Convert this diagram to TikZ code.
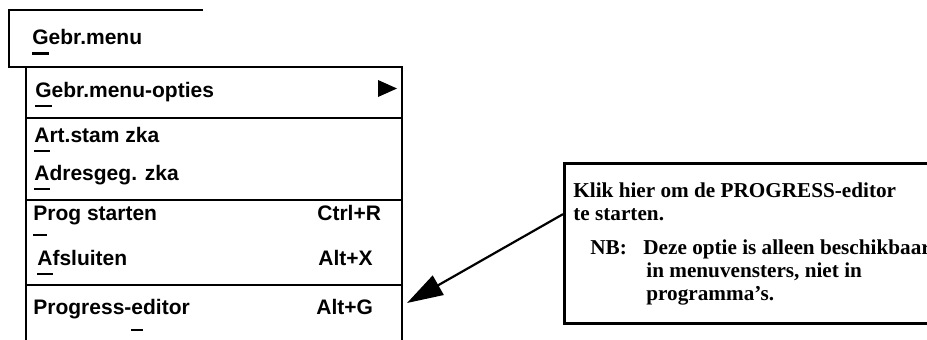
\documentclass[tikz,border=0pt]{standalone}
\usepackage{fontspec}
\usepackage{tikz}
\usetikzlibrary{arrows.meta,calc}
\newfontfamily\menufont{Liberation Sans}
\newfontfamily\notefont{Liberation Serif}
\newcommand\mnem[2][10pt]{\setbox0\hbox{#2}\rlap{\rule[-#1]{\wd0}{2.5pt}}\box0}

\begin{document}
\begin{tikzpicture}[x=1pt, y=-1pt, thick,
  frame/.style = {line width=1.2pt},
  item/.style = {anchor=base west, inner sep=0pt, font=\menufont\bfseries\fontsize{21}{25}\selectfont},
  notetext/.style = {anchor=base west, inner sep=0pt, font=\notefont\bfseries\fontsize{21.2}{25}\selectfont},
  notebox/.style = {draw, line width=3pt, anchor=north west, inner sep=0pt, minimum width=420pt, minimum height=160pt}]
\useasboundingbox (0,0) rectangle (927,340);
\clip (0,0) rectangle (927,340);
\draw[frame] (203,10) -- (9,10) -- (9,67) -- (402,67) -- (402,350);
\draw[frame] (26,67) -- (26,350);
\draw[frame] (26,118) -- (402,118);
\draw[frame] (26,200) -- (402,200);
\draw[frame] (26,285) -- (402,285);
\fill (378,80) -- (397,88.5) -- (378,97) -- cycle;
\node[item] (bar) at (32,45) {\mnem{G}ebr.menu};
\node[item] (opties) at (35,97) {\mnem{G}ebr.menu-opties};
\node[item] (artstam) at (34,142) {\mnem{A}rt.stam zka};
\node[item] (adres) at (34,180) {\mnem{A}dresgeg. zka};
\node[item] (prog) at (33,220) {\mnem[16pt]{P}rog starten};
\node[item] (afsl) at (37,265) {\mnem{A}fsluiten};
\node[item] (editor) at (33,314) {Progress-\mnem[17pt]{e}ditor};
\node[item] (ctrlr) at (317,220) {Ctrl+R};
\node[item] (altx) at (318,265) {Alt+X};
\node[item] (altg) at (316,314) {Alt+G};
\node[notebox] (note) at (563,162) {};
\node[notetext] (n1) at (573,197) {Klik hier om de PROGRESS-editor};
\node[notetext] (n2) at (573,220) {te starten.};
\node[notetext] (n3) at (590,254) {NB:};
\node[notetext] (n4) at (643,254) {Deze optie is alleen beschikbaar};
\node[notetext] (n5) at (646,277) {in menuvensters, niet in};
\node[notetext] (n6) at (646,300) {programma’s.};
\coordinate (tip) at (407,303);
\draw[-{Triangle[length=36pt,width=22pt]}, line width=2.2pt] ($(note.north west)!0.32!(note.south west)$) -- (tip);
\end{tikzpicture}
\end{document}
